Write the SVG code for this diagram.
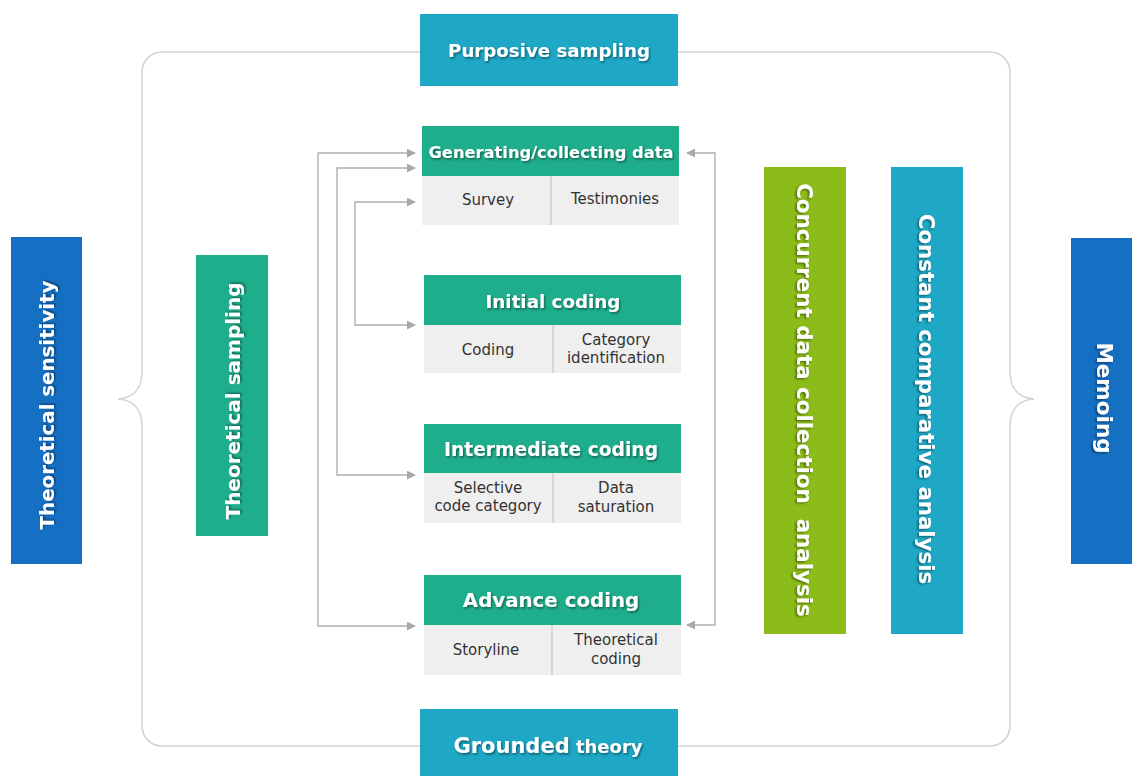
<svg xmlns="http://www.w3.org/2000/svg" width="1132" height="776" viewBox="0 0 1132 776">
  <defs>
    <style>
      .hdr { fill: #1fae8c; }
      .sub { fill: #efefef; }
      .div { stroke: #c4c4c4; stroke-width: 1.2; }
      .bar-blue { fill: #1570c4; }
      .bar-teal { fill: #1ea8c6; }
      .bar-green { fill: #1fae8c; }
      .bar-lime { fill: #8cbc1a; }
      .title { font-family: "DejaVu Sans", "Liberation Sans", sans-serif; font-weight: bold; fill: #ffffff; text-anchor: middle; filter: url(#shadow); }
      .label { font-family: "DejaVu Sans", "Liberation Sans", sans-serif; font-size: 15px; fill: #333333; text-anchor: middle; }
      .frame { fill: none; stroke: #d3d3d3; stroke-width: 1.6; }
      .link { fill: none; stroke: #b0b0b0; stroke-width: 1.4; }
    </style>
    <filter id="shadow" x="-10%" y="-30%" width="120%" height="160%">
      <feDropShadow dx="1.2" dy="1.6" stdDeviation="0.8" flood-color="#000000" flood-opacity="0.45"/>
    </filter>
    <marker id="arrow" viewBox="0 0 10 10" refX="9" refY="5" markerWidth="9" markerHeight="9" markerUnits="userSpaceOnUse" orient="auto-start-reverse">
      <path d="M0,0 L10,5 L0,10 Z" fill="#a8a8a8"/>
    </marker>
  </defs>

  <rect width="1132" height="776" fill="#ffffff"/>

  <!-- outer frame with brace points on each side -->
  <g id="frame">
    <path class="frame" d="M420,52 H162 A20,20 0 0 0 142,72 V372 C142,390 132,398 118,399 C132,400 142,408 142,426 V726 A20,20 0 0 0 162,746 H420"/>
    <path class="frame" d="M678,52 H990 A20,20 0 0 1 1010,72 V372 C1010,390 1020,398 1034,399 C1020,400 1010,408 1010,426 V726 A20,20 0 0 1 990,746 H678"/>
  </g>

  <!-- connectors: feedback loops into the data stage and the coding stages -->
  <g id="connectors">
    <polyline class="link" points="415,153 318,153 318,626 415,626" marker-start="url(#arrow)" marker-end="url(#arrow)"/>
    <polyline class="link" points="415,168 337,168 337,475 415,475" marker-start="url(#arrow)" marker-end="url(#arrow)"/>
    <polyline class="link" points="415,202 355,202 355,325 415,325" marker-start="url(#arrow)" marker-end="url(#arrow)"/>
    <polyline class="link" points="687,153 715,153 715,625 687,625" marker-start="url(#arrow)" marker-end="url(#arrow)"/>
  </g>

  <g id="purposive-sampling">
    <rect class="bar-teal" x="420" y="14" width="258" height="72"/>
    <text class="title" x="549" y="57" font-size="18.2">Purposive sampling</text>
  </g>

  <g id="grounded-theory">
    <rect class="bar-teal" x="420" y="709" width="258" height="67"/>
    <text class="title" x="548" y="753"><tspan font-size="21">Grounded</tspan><tspan font-size="18"> theory</tspan></text>
  </g>

  <g id="theoretical-sensitivity">
    <rect class="bar-blue" x="11" y="237" width="71" height="327"/>
    <text class="title" font-size="19.8" transform="translate(54,405) rotate(-90)">Theoretical sensitivity</text>
  </g>

  <g id="theoretical-sampling">
    <rect class="bar-green" x="196" y="255" width="72" height="281"/>
    <text class="title" font-size="20" transform="translate(240,401) rotate(-90)">Theoretical sampling</text>
  </g>

  <g id="concurrent-analysis">
    <rect class="bar-lime" x="764" y="167" width="82" height="467"/>
    <text class="title" font-size="21.4" transform="translate(797,400) rotate(90)" xml:space="preserve">Concurrent data collection  analysis</text>
  </g>

  <g id="constant-comparative">
    <rect class="bar-teal" x="891" y="167" width="72" height="467"/>
    <text class="title" font-size="21.3" transform="translate(919,399) rotate(90)">Constant comparative analysis</text>
  </g>

  <g id="memoing">
    <rect class="bar-blue" x="1071" y="238" width="61" height="326"/>
    <text class="title" font-size="21.5" transform="translate(1097,398) rotate(90)">Memoing</text>
  </g>

  <g id="generating-data">
    <rect class="hdr" x="422" y="126" width="257" height="50"/>
    <rect class="sub" x="422" y="176" width="257" height="49"/>
    <line class="div" x1="551" y1="176" x2="551" y2="225"/>
    <text class="title" x="551" y="158" font-size="16.3">Generating/collecting data</text>
    <text class="label" x="488" y="205">Survey</text>
    <text class="label" x="615" y="204">Testimonies</text>
  </g>

  <g id="initial-coding">
    <rect class="hdr" x="424" y="275" width="257" height="50"/>
    <rect class="sub" x="424" y="325" width="257" height="48"/>
    <line class="div" x1="553" y1="325" x2="553" y2="373"/>
    <text class="title" x="553" y="308" font-size="18.3">Initial coding</text>
    <text class="label" x="488" y="355">Coding</text>
    <text class="label" x="616" y="345">Category</text>
    <text class="label" x="616" y="363">identification</text>
  </g>

  <g id="intermediate-coding">
    <rect class="hdr" x="424" y="424" width="257" height="49"/>
    <rect class="sub" x="424" y="473" width="257" height="50"/>
    <line class="div" x1="553" y1="473" x2="553" y2="523"/>
    <text class="title" x="551" y="456" font-size="18.7">Intermediate coding</text>
    <text class="label" x="488" y="493">Selective</text>
    <text class="label" x="488" y="511">code category</text>
    <text class="label" x="616" y="493">Data</text>
    <text class="label" x="616" y="512">saturation</text>
  </g>

  <g id="advance-coding">
    <rect class="hdr" x="424" y="575" width="257" height="50"/>
    <rect class="sub" x="424" y="625" width="257" height="50"/>
    <line class="div" x1="552" y1="625" x2="552" y2="675"/>
    <text class="title" x="551" y="607" font-size="19.8">Advance coding</text>
    <text class="label" x="486" y="655">Storyline</text>
    <text class="label" x="616" y="645">Theoretical</text>
    <text class="label" x="616" y="664">coding</text>
  </g>
</svg>
